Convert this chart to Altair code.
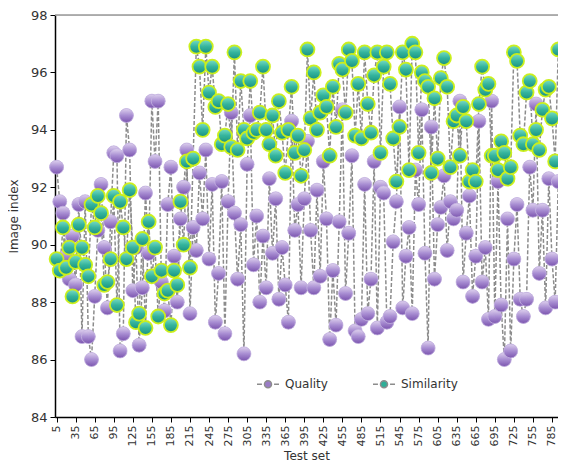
import altair as alt
import pandas as pd

test_set = list(range(5, 800, 5))

quality = [
    92.7, 91.5, 91.1, 89.6, 88.8, 90.3, 88.6, 91.4, 86.8, 91.5,
    86.8, 86.0, 88.2, 90.5, 92.1, 89.9, 87.8, 90.8, 93.2, 93.1,
    86.3, 86.9, 94.5, 93.3, 88.4, 89.9, 86.5, 88.5, 91.8, 89.7,
    95.0, 92.9, 95.0, 88.7, 87.7, 91.4, 92.7, 89.6, 88.0, 90.9,
    92.0, 93.3, 87.6, 90.6, 89.8, 92.5, 90.9, 93.3, 89.5, 92.1,
    87.3, 89.0, 92.2, 86.9, 91.5, 94.6, 91.1, 88.8, 90.7, 86.2,
    92.8, 94.5, 89.3, 91.0, 88.0, 90.3, 88.5, 92.3, 89.7, 91.6,
    88.1, 89.9, 88.6, 87.3, 94.3, 90.5, 91.4, 88.5, 91.6, 93.6,
    90.5, 88.5, 91.9, 88.9, 92.9, 90.9, 86.7, 89.1, 87.2, 90.8,
    94.7, 88.3, 90.4, 93.1, 87.0, 86.8, 87.4, 92.1, 87.6, 88.8,
    92.9, 87.1, 92.0, 91.8, 87.3, 87.5, 90.1, 91.5, 94.8, 87.8,
    89.6, 90.6, 87.6, 92.6, 91.4, 94.7, 89.7, 86.4, 94.1, 88.8,
    90.7, 91.3, 92.4, 89.8, 91.5, 90.9, 91.2, 95.0, 88.7, 90.4,
    91.7, 88.2, 89.6, 94.3, 88.7, 89.9, 87.4, 95.0, 87.5, 92.2,
    87.9, 86.0, 90.9, 86.3, 89.5, 91.4, 88.1, 87.5, 88.1, 92.7,
    91.2, 94.9, 89.0, 91.2, 87.8, 92.3, 89.5, 88.0, 92.2,
]

similarity = [
    89.5, 89.1, 90.6, 89.2, 89.9, 88.2, 89.4, 90.7, 89.9, 89.3,
    88.9, 91.4, 90.6, 91.7, 91.1, 88.6, 88.7, 89.5, 91.7, 87.9,
    91.5, 90.6, 89.5, 91.9, 89.9, 87.3, 87.6, 90.2, 87.1, 90.8,
    88.9, 89.9, 87.5, 89.1, 88.3, 88.4, 87.2, 89.1, 88.6, 91.5,
    90.0, 92.9, 89.2, 93.0, 96.9, 96.2, 94.0, 96.9, 95.3, 96.2,
    94.8, 95.0, 93.5, 93.8, 94.9, 93.4, 96.7, 93.3, 95.7, 94.0,
    93.7, 95.7, 93.9, 94.0, 94.6, 96.2, 94.0, 93.5, 94.5, 93.1,
    95.0, 93.9, 92.5, 94.0, 95.5, 93.2, 93.8, 92.4, 93.3, 96.8,
    94.4, 96.0, 94.0, 94.6, 95.2, 94.8, 93.1, 95.5, 94.1, 96.3,
    96.1, 94.6, 96.8, 96.4, 93.8, 95.6, 93.7, 96.7, 94.9, 93.9,
    95.9, 96.7, 93.2, 96.2, 96.7, 95.6, 93.7, 92.2, 94.1, 96.7,
    96.1, 92.6, 97.0, 96.7, 93.2, 96.0, 95.7, 95.5, 92.5, 95.1,
    93.0, 95.8, 96.5, 95.5, 92.7, 94.3, 94.5, 93.1, 94.8, 94.3,
    92.2, 92.6, 92.2, 94.9, 96.2, 95.4, 95.6, 93.1, 93.1, 92.6,
    93.6, 93.2, 92.3, 92.7, 96.7, 96.4, 93.8, 93.5, 95.3, 95.7,
    93.5, 94.0, 93.3, 94.7, 95.4, 95.5, 94.4, 92.9, 96.8,
]

series_names = ["Quality", "Similarity"]
x_ticks = list(range(5, 786, 30))
y_ticks = [84, 86, 88, 90, 92, 94, 96, 98]

n = len(test_set)
df = pd.DataFrame({
    "Test set": test_set * 2,
    "Image index": quality + similarity,
    "Series": ["Quality"] * n + ["Similarity"] * n,
})

W, H = 503, 402
FONT = "DejaVu Sans"

x_enc = alt.X(
    "Test set:Q",
    scale=alt.Scale(domain=[2.5, 794.5], nice=False, zero=False),
    axis=alt.Axis(values=x_ticks, labelAngle=-90, grid=False, title="Test set",
                  labelFontSize=11, labelColor="#333", labelFont=FONT,
                  tickColor="#000", tickSize=5, domainColor="#000", domainWidth=1.5,
                  labelPadding=3, titleFont=FONT, titleFontSize=12,
                  titleFontWeight="normal", titleColor="#333", titlePadding=5),
)
y_enc = alt.Y(
    "Image index:Q",
    scale=alt.Scale(domain=[84, 98], nice=False, zero=False),
    axis=alt.Axis(values=y_ticks, grid=False, title="Image index",
                  labelFontSize=13, labelColor="#333", labelFont=FONT,
                  tickColor="#000", tickSize=5, domainColor="#000", domainWidth=1.5,
                  labelPadding=3, titleFont=FONT, titleFontSize=12,
                  titleFontWeight="normal", titleColor="#333", titlePadding=10),
)

base = alt.Chart(df).encode(x=x_enc, y=y_enc)

lines = base.mark_line(strokeDash=[4, 2], color="#8c8c8c", strokeWidth=1.5).encode(
    detail="Series:N"
)

legend_path = ("M-1,0H-0.55M0.55,0H1"
               "M-0.32,0A0.32,0.32,0,1,1,0.32,0A0.32,0.32,0,1,1,-0.32,0Z")

points = base.mark_point(filled=True, size=195, opacity=1).encode(
    fill=alt.Fill("Series:N",
                  scale=alt.Scale(domain=series_names, range=["#9a7cc6", "#2fae98"]),
                  legend=alt.Legend(title=None, orient="none", legendX=201, legendY=357,
                                    direction="horizontal", symbolType=legend_path,
                                    symbolSize=484, symbolStrokeColor="#8c8c8c",
                                    symbolStrokeWidth=1.5, labelFontSize=12,
                                    labelFont=FONT, labelColor="#333",
                                    columnPadding=42, labelOffset=5)),
)

purple_grad = alt.LinearGradient(
    gradient="linear",
    stops=[alt.GradientStop(color="#e2d6f0", offset=0),
           alt.GradientStop(color="#a98ed3", offset=0.5),
           alt.GradientStop(color="#7a53ae", offset=1)],
    x1=0, x2=0, y1=0, y2=1,
)
green_grad = alt.LinearGradient(
    gradient="linear",
    stops=[alt.GradientStop(color="#7ee0c8", offset=0),
           alt.GradientStop(color="#35b59e", offset=0.5),
           alt.GradientStop(color="#17907f", offset=1)],
    x1=0, x2=0, y1=0, y2=1,
)

q_pts = base.transform_filter(alt.datum.Series == "Quality").mark_point(
    filled=True, size=195, fill=purple_grad, stroke="#c7b6e2", strokeWidth=0.8, opacity=0.95
)
s_pts = base.transform_filter(alt.datum.Series == "Similarity").mark_point(
    filled=True, size=195, fill=green_grad, stroke="#cdf01a", strokeWidth=1.8, opacity=0.97
)

top_border = alt.Chart(pd.DataFrame({"k": [0]})).mark_rule(color="#999", strokeWidth=1.5).encode(
    x=alt.value(0), x2=alt.value(W), y=alt.value(0)
)

chart = alt.layer(lines, points, q_pts, s_pts, top_border).properties(
    width=W, height=H,
    autosize=alt.AutoSizeParams(type="none"),
    padding={"left": 47, "top": 7, "right": 0, "bottom": 48},
).configure_view(stroke=None).configure(background="white")

chart.save("out.html", embed_options={"renderer": "svg", "actions": False})
